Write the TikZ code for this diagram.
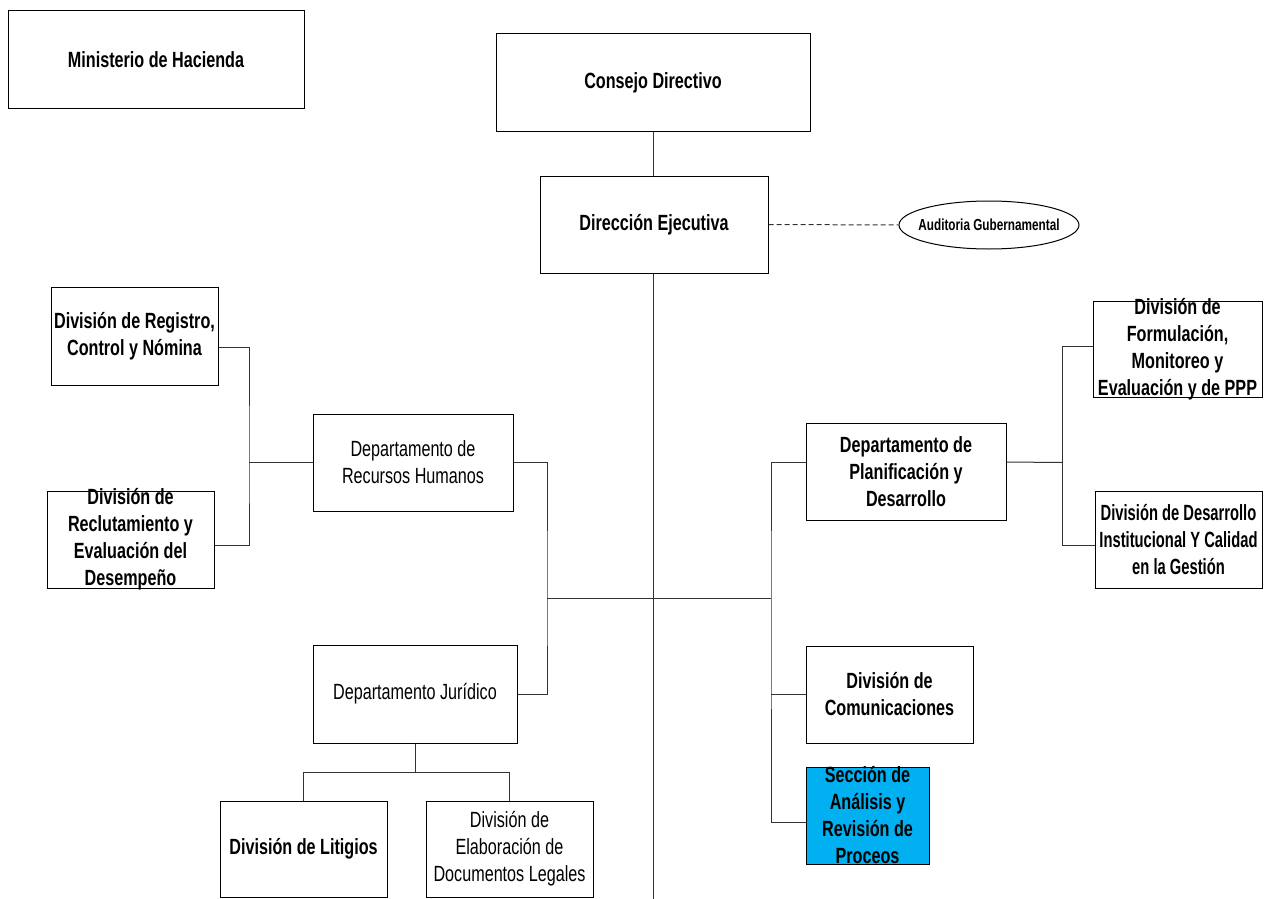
\documentclass[tikz,border=0pt]{standalone}
\usepackage{fontspec}
\setmainfont{Liberation Sans}[FakeStretch=0.735]
\newfontfamily\narrowfont{Liberation Sans}[FakeStretch=0.67]
\usetikzlibrary{shapes.geometric}
\definecolor{secblue}{RGB}{0,176,240}
\begin{document}
\begin{tikzpicture}[x=1pt,y=-1pt,
  box/.style={draw=black, line width=1pt, rectangle, inner sep=0pt},
  txt/.style={inner sep=0pt, align=center, font=\fontsize{22}{27}\selectfont},
  btxt/.style={txt, font=\fontsize{22}{27}\selectfont\bfseries},
  link/.style={draw=black!80, line width=1pt},
  dotlink/.style={link, dash pattern=on 5pt off 3pt}
]
\useasboundingbox (0,0) rectangle (1269,899);

% top level
\node[box, minimum width=296, minimum height=97,
  label={[btxt]center:Ministerio de Hacienda}] (min) at (156,59.5) {};
\node[box, minimum width=314, minimum height=97,
  label={[btxt]center:Consejo Directivo}] (cons) at (653,82.5) {};
\node[box, minimum width=228, minimum height=97,
  label={[btxt]center:Dirección Ejecutiva}] (dir) at (654,224.5) {};
\node[draw=black, line width=1pt, ellipse, inner sep=0pt,
  minimum width=180, minimum height=48,
  label={[inner sep=0pt, font=\fontsize{16}{18}\selectfont\bfseries]center:Auditoria Gubernamental}] (aud) at (989,225) {};

% human resources branch
\node[box, minimum width=167, minimum height=98,
  label={[btxt]center:{División de Registro,\\Control y Nómina}}] (reg) at (134.5,336) {};
\node[box, minimum width=167, minimum height=97,
  label={[btxt]center:{División de\\Reclutamiento y\\Evaluación del\\Desempeño}}] (rec) at (130.5,539.5) {};
\node[box, minimum width=200, minimum height=97,
  label={[txt]center:{Departamento de\\Recursos Humanos}}] (rrhh) at (413,462.5) {};

% legal branch
\node[box, minimum width=204, minimum height=98,
  label={[txt]center:Departamento Jurídico}] (jur) at (415,694) {};
\node[box, minimum width=167, minimum height=96,
  label={[btxt]center:División de Litigios}] (lit) at (303.5,849) {};
\node[box, minimum width=167, minimum height=96,
  label={[txt]center:{División de\\Elaboración de\\Documentos Legales}}] (ela) at (509.5,849) {};

% planning branch
\node[box, minimum width=200, minimum height=97,
  label={[btxt]center:{Departamento de\\Planificación y\\Desarrollo}}] (plan) at (906,471.5) {};
\node[box, minimum width=169, minimum height=96,
  label={[btxt]center:{División de\\Formulación,\\Monitoreo y\\Evaluación y de PPP}}] (form) at (1177.5,349) {};
\node[box, minimum width=167, minimum height=97,
  label={[btxt, font=\fontsize{22}{27}\narrowfont\bfseries]center:{División de Desarrollo\\Institucional Y Calidad\\en la Gestión}}] (desi) at (1178.5,539.5) {};

% communications and processes
\node[box, minimum width=167, minimum height=97,
  label={[btxt]center:{División de\\Comunicaciones}}] (com) at (889.5,694.5) {};
\node[box, fill=secblue, minimum width=123, minimum height=97,
  label={[btxt]center:{Sección de\\Análisis y\\Revisión de\\Proceos}}] (sec) at (867.5,815.5) {};

% junction points
\coordinate (spineend) at (653,899);
\coordinate (lbx) at (547,598);
\coordinate (rbx) at (771,598);
\coordinate (lbr) at (249,462.5);
\coordinate (rbr) at (1062,462.5);

% main spine
\draw[link] (cons.south) -- (cons.south |- dir.north);
\draw[link] (cons.south |- dir.south) -- (spineend);
\draw[dotlink] (dir.east) -- (aud.west);

% central bus
\draw[link] (lbx) -- (rbx);
\draw[link] (rrhh.east) -| (lbx) |- (jur.east);
\draw[link] ([yshift=9.5pt]plan.west) -| (rbx) |- ([yshift=-6.5pt]sec.west);
\draw[link] (rbx |- com.west) -- (com.west);

% human resources divisions
\draw[link] ([yshift=-11pt]reg.east) -| (lbr) |- ([yshift=-5.5pt]rec.east);
\draw[link] (lbr) -- (rrhh.west);

% planning divisions
\draw[link] ([yshift=9.5pt]plan.east) -- (rbr);
\draw[link] ([yshift=3pt]form.west) -| (rbr) |- ([yshift=-5.5pt]desi.west);

% legal divisions
\draw[link] (jur.south) -- ++(0,29) coordinate (jt);
\draw[link] (lit.north) -- (lit.north |- jt) -- (ela.north |- jt) -- (ela.north);
\end{tikzpicture}
\end{document}
